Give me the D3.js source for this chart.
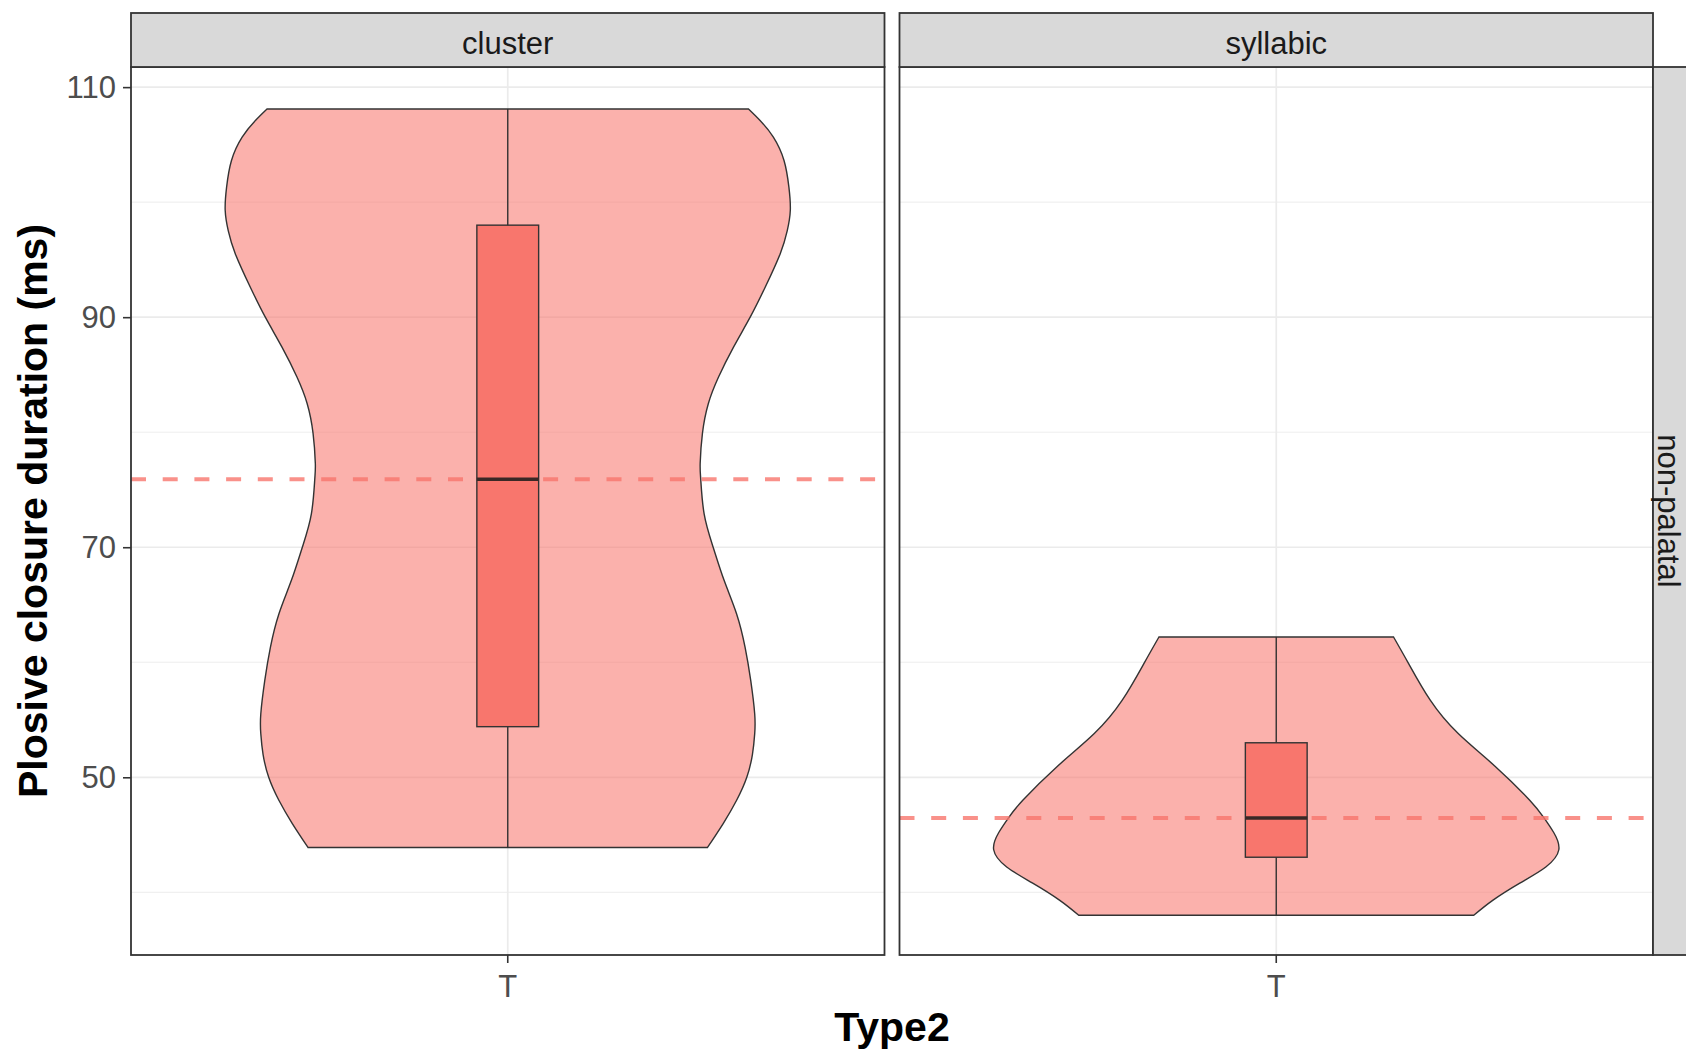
<!DOCTYPE html>
<html>
<head>
<meta charset="utf-8">
<script src="https://cdn.jsdelivr.net/npm/d3@7"></script>
<style>
  body { margin: 0; background: #fff; }
  svg { display: block; font-family: "Liberation Sans", Arial, sans-serif; }
</style>
</head>
<body>
<svg id="chart"></svg>
<script>
const panels = ['cluster', 'syllabic'];
const rowStrip = 'non-palatal';
const categories = ['T'];
const yTicks = [50, 70, 90, 110];
const yMinorTicks = [40, 60, 80, 100];

// violin outlines: duration (ms) and relative width
const clusterDensY = [108.1, 107.1, 105.65, 103.6, 101.3, 99.3, 97.5, 95.5, 92.6, 90.0, 87.4, 84.8, 82.5, 79.9, 77.3, 75.9, 72.9, 70.0, 67.1, 64.2, 61.3, 58.4, 55.5, 53.8, 52.0, 50.0, 48.0, 46.0, 43.9];
const clusterDensW = [0.852, 0.893, 0.940, 0.978, 0.995, 1.0, 0.989, 0.964, 0.911, 0.858, 0.799, 0.746, 0.710, 0.689, 0.681, 0.683, 0.695, 0.727, 0.766, 0.810, 0.840, 0.860, 0.874, 0.874, 0.866, 0.846, 0.810, 0.763, 0.707];
const syllabicDensY = [62.2, 59.9, 56.7, 53.8, 50.9, 48.0, 46.5, 45.2, 43.7, 42.2, 40.8, 39.3, 38.0];
const syllabicDensW = [0.415, 0.468, 0.545, 0.644, 0.777, 0.897, 0.947, 0.982, 1.0, 0.954, 0.862, 0.766, 0.699];

// box stats: lower whisker, q1, median, q3, upper whisker
const clusterBox = [43.9, 54.4, 75.9, 98.0, 108.1];
const syllabicBox = [38.0, 43.05, 46.45, 53.0, 62.2];

const violins = [
  { y: clusterDensY, w: clusterDensW, box: clusterBox },
  { y: syllabicDensY, w: syllabicDensW, box: syllabicBox }
];

const width = 1686, height = 1049;
const left = 131, panelW = 753.5, spacing = 15;
const panelTop = 67, panelBottom = 955, stripTop = 13;
const fill = '#F8766D';

const svg = d3.select('#chart').attr('width', width).attr('height', height);

const y = d3.scaleLinear().domain([34.55, 111.75]).range([panelBottom, panelTop]);

panels.forEach((name, i) => {
    const x0 = left + i * (panelW + spacing);
    const x1 = x0 + panelW;
    const x = d3.scaleBand().domain(categories).range([x0, x1]);
    const cx = x('T') + x.bandwidth() / 2;
    const half = d3.scaleLinear().domain([0, 1]).range([0, 0.375 * x.bandwidth()]);
    const boxHalf = 0.041 * x.bandwidth();
    const v = violins[i];
    const g = svg.append('g');

    // grid
    g.selectAll('.minor').data(yMinorTicks).enter().append('line')
        .attr('x1', x0).attr('x2', x1)
        .attr('y1', d => y(d)).attr('y2', d => y(d))
        .attr('stroke', '#EBEBEB').attr('stroke-width', 0.9);
    g.selectAll('.major').data(yTicks).enter().append('line')
        .attr('x1', x0).attr('x2', x1)
        .attr('y1', d => y(d)).attr('y2', d => y(d))
        .attr('stroke', '#EBEBEB').attr('stroke-width', 1.7);
    g.append('line')
        .attr('x1', cx).attr('x2', cx)
        .attr('y1', panelTop).attr('y2', panelBottom)
        .attr('stroke', '#EBEBEB').attr('stroke-width', 1.7);

    // violin
    const pts = v.y.map((d, j) => ({ val: d, w: v.w[j] }));
    const area = d3.area()
        .y(d => y(d.val))
        .x0(d => cx - half(d.w))
        .x1(d => cx + half(d.w))
        .curve(d3.curveNatural);
    g.append('path')
        .attr('d', area(pts))
        .attr('fill', fill).attr('fill-opacity', 0.57)
        .attr('stroke', '#333').attr('stroke-width', 1.4);

    // dashed median line
    g.append('line')
        .attr('x1', x0).attr('x2', x1)
        .attr('y1', y(v.box[2])).attr('y2', y(v.box[2]))
        .attr('stroke', fill).attr('stroke-opacity', 0.8)
        .attr('stroke-width', 4)
        .attr('stroke-dasharray', '15 16.7');

    // box
    g.append('line')
        .attr('x1', cx).attr('x2', cx)
        .attr('y1', y(v.box[0])).attr('y2', y(v.box[4]))
        .attr('stroke', '#333').attr('stroke-width', 1.4);
    g.append('rect')
        .attr('x', cx - boxHalf).attr('width', 2 * boxHalf)
        .attr('y', y(v.box[3])).attr('height', y(v.box[1]) - y(v.box[3]))
        .attr('fill', fill)
        .attr('stroke', '#333').attr('stroke-width', 1.4);
    g.append('line')
        .attr('x1', cx - boxHalf).attr('x2', cx + boxHalf)
        .attr('y1', y(v.box[2])).attr('y2', y(v.box[2]))
        .attr('stroke', '#3a2826').attr('stroke-width', 3.5);

    // panel border
    g.append('rect')
        .attr('x', x0).attr('y', panelTop)
        .attr('width', panelW).attr('height', panelBottom - panelTop)
        .attr('fill', 'none').attr('stroke', '#333').attr('stroke-width', 1.8);

    // strip
    g.append('rect')
        .attr('x', x0).attr('y', stripTop)
        .attr('width', panelW).attr('height', panelTop - stripTop)
        .attr('fill', '#D9D9D9').attr('stroke', '#333').attr('stroke-width', 1.8);
    g.append('text')
        .attr('x', (x0 + x1) / 2).attr('y', 54)
        .attr('text-anchor', 'middle')
        .attr('font-size', 31).attr('fill', '#1A1A1A')
        .text(name);

    // x axis
    const xAxis = g.append('g')
        .attr('transform', `translate(0,${panelBottom})`)
        .call(d3.axisBottom(x).tickSize(8).tickPadding(12));
    xAxis.select('.domain').remove();
    xAxis.selectAll('line').attr('stroke', '#333').attr('stroke-width', 1.6);
    xAxis.selectAll('text').attr('font-size', 31).attr('fill', '#4D4D4D')
        .attr('font-family', '"Liberation Sans", Arial, sans-serif');

    if (i === 0) {
        const yAxis = g.append('g')
            .attr('transform', `translate(${x0},0)`)
            .call(d3.axisLeft(y).tickValues(yTicks).tickSize(8).tickPadding(7));
        yAxis.select('.domain').remove();
        yAxis.selectAll('line').attr('stroke', '#333').attr('stroke-width', 1.6);
        yAxis.selectAll('text').attr('font-size', 31).attr('fill', '#4D4D4D')
            .attr('font-family', '"Liberation Sans", Arial, sans-serif');
    }
});

// right strip
const rx = left + 2 * panelW + spacing;
svg.append('rect')
    .attr('x', rx).attr('y', panelTop)
    .attr('width', 40).attr('height', panelBottom - panelTop)
    .attr('fill', '#D9D9D9').attr('stroke', '#333').attr('stroke-width', 1.8);
svg.append('text')
    .attr('transform', `translate(${rx + 5},${(panelTop + panelBottom) / 2}) rotate(90)`)
    .attr('text-anchor', 'middle')
    .attr('font-size', 31).attr('fill', '#1A1A1A')
    .text(rowStrip);

// axis titles
svg.append('text')
    .attr('transform', `translate(47,${(panelTop + panelBottom) / 2}) rotate(-90)`)
    .attr('text-anchor', 'middle')
    .attr('font-size', 41).attr('font-weight', 'bold')
    .text('Plosive closure duration (ms)');

svg.append('text')
    .attr('x', (left + rx) / 2).attr('y', 1041)
    .attr('text-anchor', 'middle')
    .attr('font-size', 41).attr('font-weight', 'bold')
    .text('Type2');
</script>
</body>
</html>
